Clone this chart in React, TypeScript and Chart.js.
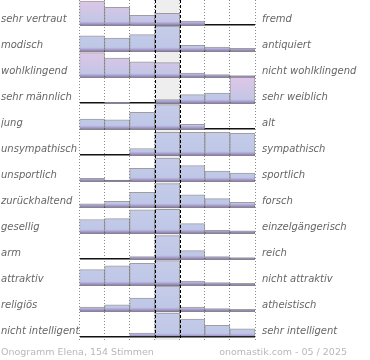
import React, { useEffect, useRef } from 'react';
import { Chart, registerables } from 'chart.js';

Chart.register(...registerables);

// Scale positions (7 bins of the semantic differential)
const bins = ['1', '2', '3', '4', '5', '6', '7'];

const leftLabels = [
  'sehr vertraut', 'modisch', 'wohlklingend', 'sehr männlich', 'jung',
  'unsympathisch', 'unsportlich', 'zurückhaltend', 'gesellig', 'arm',
  'attraktiv', 'religiös', 'nicht intelligent',
];

const rightLabels = [
  'fremd', 'antiquiert', 'nicht wohlklingend', 'sehr weiblich', 'alt',
  'sympathisch', 'sportlich', 'forsch', 'einzelgängerisch', 'reich',
  'nicht attraktiv', 'atheistisch', 'sehr intelligent',
];

// Bar heights per row, in percent of the row height
const vertraut = [92, 68, 37, 45, 15, 0, 0];
const modisch = [58, 50, 63, 96, 22, 15, 10];
const wohlklingend = [94, 73, 58, 55, 15, 9, 5];
const maennlich = [0, 3, 0, 13, 32, 38, 100];
const jung = [38, 35, 64, 94, 18, 0, 0];
const unsympathisch = [0, 0, 25, 87, 87, 87, 83];
const unsportlich = [10, 4, 49, 88, 59, 38, 30];
const zurueckhaltend = [12, 22, 56, 90, 47, 32, 18];
const gesellig = [52, 55, 89, 91, 36, 10, 8];
const arm = [0, 0, 9, 90, 32, 9, 5];
const attraktiv = [59, 74, 83, 94, 15, 9, 6];
const religioes = [15, 24, 50, 96, 15, 9, 6];
const intelligent = [0, 0, 15, 92, 69, 45, 31];

const rows = [
  vertraut, modisch, wohlklingend, maennlich, jung, unsympathisch,
  unsportlich, zurueckhaltend, gesellig, arm, attraktiv, religioes, intelligent,
];

const footerLeft = 'Onogramm Elena, 154 Stimmen';
const footerRight = 'onomastik.com - 05 / 2025';

const ROWS = rows.length;

function isPink(row: number, bin: number) {
  return row === 0 || row === 2 || (row === 3 && bin === 6);
}

function barFill(ctx: any) {
  const chart = ctx.chart;
  const y = chart.scales && chart.scales.y;
  if (!y || !chart.chartArea) return '#c2cae8';
  const row = ctx.datasetIndex;
  const bin = ctx.dataIndex;
  const base = ROWS - 1 - row;
  const yb = y.getPixelForValue(base);
  const yt = y.getPixelForValue(base + 1);
  const g = chart.ctx.createLinearGradient(0, yt, 0, yb);
  if (isPink(row, bin)) {
    g.addColorStop(0, '#dfc6e6');
    g.addColorStop(0.5, '#cfc6e6');
    g.addColorStop(0.86, '#c2c6e6');
  } else {
    g.addColorStop(0, '#c6cdea');
    g.addColorStop(0.86, '#bfc7e7');
  }
  g.addColorStop(0.92, '#b0a8d6');
  g.addColorStop(1, '#8f7fb8');
  return g;
}

const midColumn = {
  id: 'midColumn',
  beforeDraw(chart: any) {
    const { ctx, chartArea, scales } = chart;
    const x = scales.x;
    const w = x.getPixelForValue(1) - x.getPixelForValue(0);
    const cx = x.getPixelForValue(3);
    ctx.save();
    ctx.fillStyle = '#eeeeee';
    ctx.fillRect(cx - w / 2, chartArea.top, w, chartArea.bottom - chartArea.top);
    ctx.restore();
  },
  afterDatasetsDraw(chart: any) {
    const { ctx, chartArea, scales } = chart;
    const x = scales.x;
    const w = x.getPixelForValue(1) - x.getPixelForValue(0);
    const cx = x.getPixelForValue(3);
    ctx.save();
    ctx.strokeStyle = '#000';
    ctx.lineWidth = 1;
    ctx.setLineDash([3, 2]);
    [cx - w / 2, cx + w / 2].forEach((px) => {
      const p = Math.round(px) + 0.5;
      ctx.beginPath();
      ctx.moveTo(p, chartArea.top);
      ctx.lineTo(p, chartArea.bottom);
      ctx.stroke();
    });
    ctx.restore();
  },
};

const labelFont = { family: '"DejaVu Sans", sans-serif', style: 'italic' as const, size: 10 };

const noPad = (s: any) => {
  s.paddingTop = 0;
  s.paddingBottom = 0;
  s.paddingLeft = 0;
  s.paddingRight = 0;
};

export default function App() {
  const ref = useRef<HTMLCanvasElement>(null);

  useEffect(() => {
    document.body.style.margin = '0';
    const canvas = ref.current;
    if (!canvas) return;
    const rowTicks = (scale: any) => {
      scale.ticks = rows.map((_, i) => ({ value: ROWS - 1 - i }));
    };
    const chart = new Chart(canvas, {
      type: 'bar',
      data: {
        labels: bins,
        datasets: rows.map((vals, i) => {
          const base = ROWS - 1 - i;
          return {
            label: leftLabels[i],
            data: vals.map((v) => (v > 0 ? [base, base + v / 100] : null)) as any,
            backgroundColor: barFill,
            borderColor: 'rgba(125,125,125,0.75)',
            borderWidth: { top: 1, left: 1, right: 1, bottom: 0 },
            borderSkipped: 'bottom',
            barPercentage: 1,
            categoryPercentage: 1,
            grouped: false,
            yAxisID: 'y',
          } as any;
        }),
      },
      options: {
        responsive: false,
        animation: false,
        events: [],
        devicePixelRatio: 1,
        layout: { padding: { left: 1, right: 0, top: 0, bottom: 20 } },
        plugins: {
          legend: { display: false },
          tooltip: { enabled: false },
        },
        scales: {
          x: {
            type: 'category',
            display: true,
            ticks: { display: false },
            grid: { color: '#8a8a8a', lineWidth: 1, drawTicks: false, offset: true },
            border: { display: false, dash: [1, 2] },
            afterFit: (s: any) => { s.height = 0; noPad(s); },
          },
          y: {
            type: 'linear',
            position: 'left',
            min: -3 / 26,
            max: 337 / 26,
            afterBuildTicks: rowTicks,
            ticks: {
              autoSkip: false,
              callback: (value: any) => leftLabels[ROWS - 1 - Number(value)],
              labelOffset: -5.5,
              crossAlign: 'far',
              font: labelFont,
              color: '#666',
              padding: 0,
            },
            grid: { color: '#111', lineWidth: 1.5, drawTicks: false },
            border: { display: false },
            afterFit: (s: any) => { s.width = 78.5; noPad(s); },
            z: 1,
          },
          y2: {
            type: 'linear',
            position: 'right',
            min: -3 / 26,
            max: 337 / 26,
            afterBuildTicks: rowTicks,
            ticks: {
              autoSkip: false,
              callback: (value: any) => rightLabels[ROWS - 1 - Number(value)],
              labelOffset: -5.5,
              crossAlign: 'near',
              font: labelFont,
              color: '#666',
              padding: 7,
            },
            grid: { display: false, drawTicks: false },
            border: { display: false },
            afterFit: (s: any) => { s.width = 115; noPad(s); },
          },
        } as any,
      },
      plugins: [midColumn],
    });
    return () => chart.destroy();
  }, []);

  const footStyle: React.CSSProperties = {
    position: 'absolute',
    top: 346,
    fontFamily: '"DejaVu Sans", sans-serif',
    fontSize: '9.5px',
    lineHeight: '12px',
    color: '#b8b8b8',
    whiteSpace: 'nowrap',
  };

  return (
    <div style={{ position: 'relative', width: 370, height: 360, background: '#fff' }}>
      <canvas ref={ref} width={370} height={360} style={{ display: 'block' }} />
      <div style={{ ...footStyle, left: 1 }}>{footerLeft}</div>
      <div style={{ ...footStyle, right: 23 }}>{footerRight}</div>
    </div>
  );
}
